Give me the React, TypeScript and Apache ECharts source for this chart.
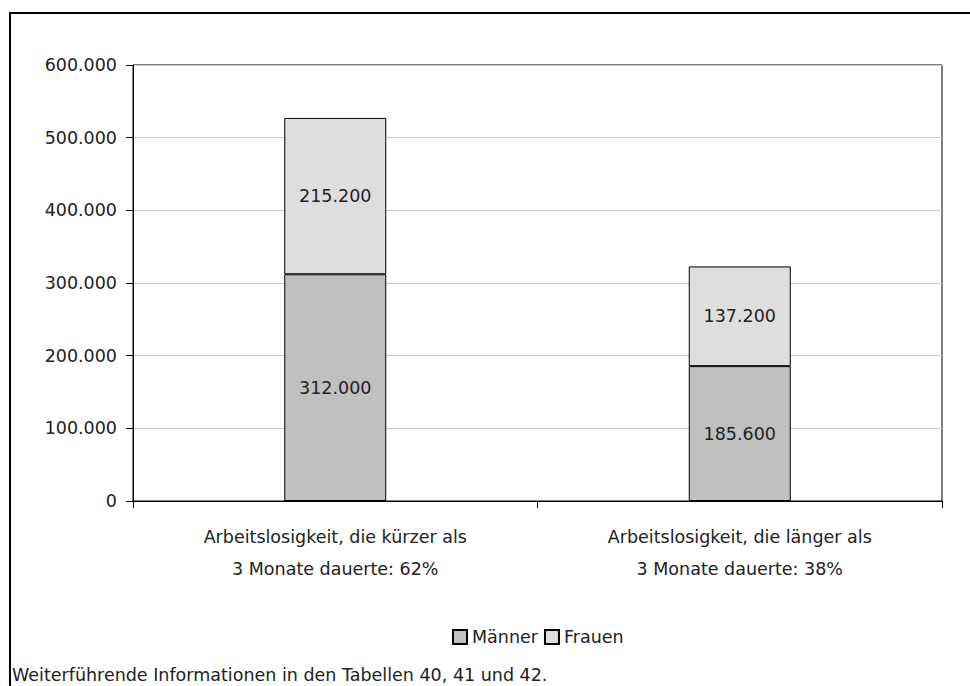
import React, { useEffect, useRef } from "react";
import * as echarts from "echarts";

const categories = [
  "Arbeitslosigkeit, die kürzer als\n3 Monate dauerte: 62%",
  "Arbeitslosigkeit, die länger als\n3 Monate dauerte: 38%",
];
const maenner = [312000, 185600];
const frauen = [215200, 137200];
const seriesNames = ["Männer", "Frauen"];
const footnote = "Weiterführende Informationen in den Tabellen 40, 41 und 42.";

const FONT = "DejaVu Sans";
const TEXT = "#222222";
const FS = 17.5;

function fmt(v: number): string {
  return String(Math.round(v)).replace(/\B(?=(\d{3})+(?!\d))/g, ".");
}

export default function App() {
  const ref = useRef<HTMLDivElement>(null);
  useEffect(() => {
    if (!ref.current) return;
    const chart = echarts.init(ref.current, undefined, { renderer: "svg" });
    const label = {
      show: true,
      position: "inside",
      fontFamily: FONT,
      fontSize: FS,
      color: TEXT,
      formatter: (p: any) => fmt(p.value),
    };
    chart.setOption({
      animation: false,
      backgroundColor: "#fff",
      textStyle: { fontFamily: FONT },
      grid: {
        left: 133,
        top: 65,
        right: 28,
        bottom: 185,
        show: true,
        borderColor: "#000",
        borderWidth: 1,
        backgroundColor: "transparent",
      },
      legend: {
        left: 447,
        top: 623,
        icon: "rect",
        itemWidth: 14,
        itemHeight: 14,
        itemGap: 6,
        textStyle: { fontFamily: FONT, fontSize: FS, color: TEXT },
        data: seriesNames,
      },
      xAxis: {
        type: "category",
        data: categories,
        boundaryGap: true,
        axisLine: { show: true, lineStyle: { color: "#000", width: 1 } },
        axisTick: { show: true, alignWithLabel: false, length: 7, lineStyle: { color: "#000" } },
        axisLabel: {
          fontFamily: FONT,
          fontSize: FS,
          color: TEXT,
          lineHeight: 32,
          margin: 20,
          interval: 0,
        },
      },
      yAxis: {
        type: "value",
        min: 0,
        max: 600000,
        interval: 100000,
        axisLine: { show: true, lineStyle: { color: "#000", width: 1 } },
        axisTick: { show: true, length: 7, lineStyle: { color: "#000" } },
        axisLabel: {
          fontFamily: FONT,
          fontSize: FS,
          color: TEXT,
          margin: 16,
          formatter: (v: number) => fmt(v),
        },
        splitLine: { show: true, lineStyle: { color: "#c8c8c8", width: 1 } },
      },
      series: [
        {
          name: seriesNames[0],
          type: "bar",
          stack: "total",
          barWidth: 102,
          data: maenner,
          itemStyle: { color: "#c0c0c0", borderColor: "#000", borderWidth: 1 },
          label,
        },
        {
          name: seriesNames[1],
          type: "bar",
          stack: "total",
          barWidth: 102,
          data: frauen,
          itemStyle: { color: "#dedede", borderColor: "#000", borderWidth: 1 },
          label,
        },
      ],
      graphic: [
        {
          type: "rect",
          shape: { x: 10, y: 13, width: 1000, height: 1000 },
          style: { fill: "none", stroke: "#000", lineWidth: 2 },
          silent: true,
        },
        {
          type: "text",
          left: 12,
          top: 666,
          style: { text: footnote, fontFamily: FONT, fontSize: FS, fill: TEXT },
        },
      ],
    });
    return () => chart.dispose();
  }, []);
  return (
    <div
      ref={ref}
      style={{ position: "fixed", left: 0, top: 0, width: 970, height: 686 }}
    />
  );
}
